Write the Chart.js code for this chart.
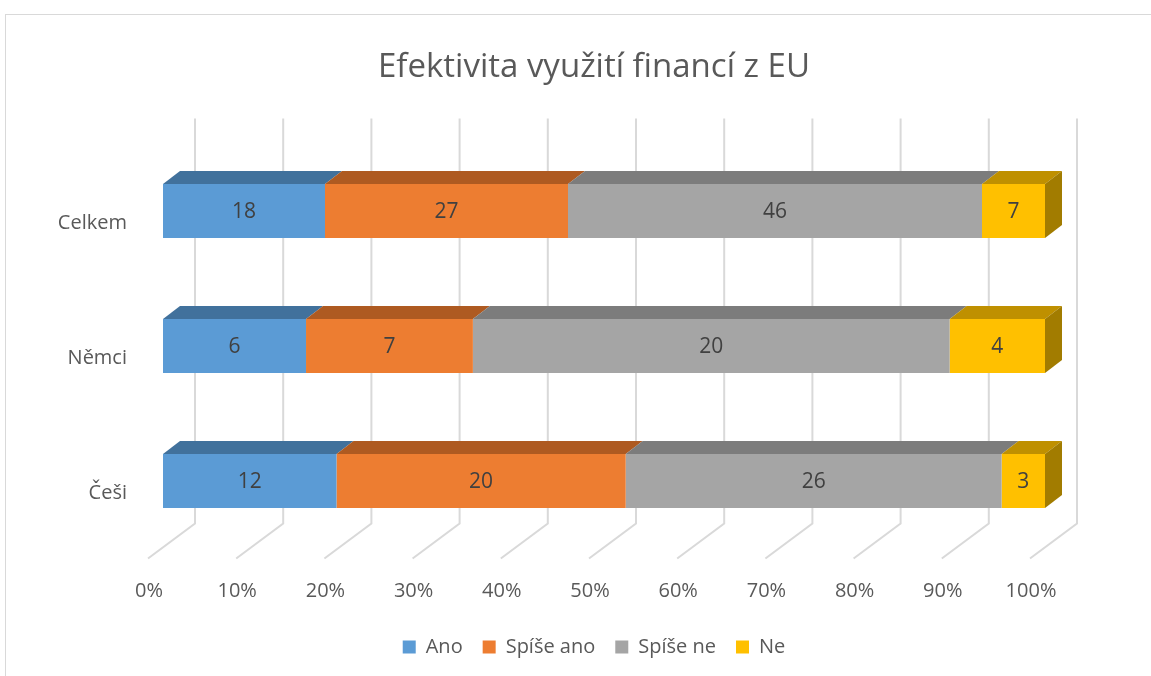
<!DOCTYPE html>
<html>
<head>
<meta charset="utf-8">
<script src="https://cdn.jsdelivr.net/npm/chart.js@4.4.1/dist/chart.umd.min.js"></script>
<style>
  html, body { margin: 0; padding: 0; background: #fff; overflow: hidden; }
  #wrap { width: 1188px; height: 676px; }
</style>
</head>
<body>
<div id="wrap"><canvas id="chart" width="1188" height="676"></canvas></div>
<script>
// data
const categories = ['Celkem', 'Němci', 'Češi'];
const seriesNames = ['Ano', 'Spíše ano', 'Spíše ne', 'Ne'];
const ano = [18, 6, 12];
const spiseAno = [27, 7, 20];
const spiseNe = [46, 20, 26];
const ne = [7, 4, 3];
const xTicks = [0, 10, 20, 30, 40, 50, 60, 70, 80, 90, 100];

const frontColors = ['#5B9BD5', '#ED7D31', '#A5A5A5', '#FFC000'];
const topColors = ['#41719C', '#AE5A21', '#7C7C7C', '#BF9000'];
const sideColor = '#A27C00';
const textColor = '#595959';
const fontFamily = '"Open Sans", "Noto Sans", sans-serif';

const rawSeries = [ano, spiseAno, spiseNe, ne];
const totals = categories.map((_, i) => rawSeries.reduce((s, arr) => s + arr[i], 0));

// 3D look: bar depth and back wall offset (pixels)
const depthX = 17, depthY = -13;
const wallX = 32;

const threeD = {
  id: 'threeD',
  beforeDraw(chart) {
    const ctx = chart.ctx;
    ctx.save();
    ctx.fillStyle = '#fff';
    ctx.fillRect(0, 0, chart.width, chart.height);
    ctx.strokeStyle = '#D9D9D9';
    ctx.lineWidth = 1;
    ctx.strokeRect(5.5, 14.5, chart.width - 10, chart.height);
    ctx.restore();
  },
  beforeDatasetsDraw(chart) {
    const ctx = chart.ctx;
    const area = chart.chartArea;
    const xs = chart.scales.x;
    ctx.save();
    ctx.strokeStyle = '#D9D9D9';
    ctx.lineWidth = 2;
    xTicks.forEach(v => {
      const px = xs.getPixelForValue(v);
      ctx.beginPath();
      ctx.moveTo(px + wallX, area.top - 25);
      ctx.lineTo(px + wallX, area.bottom - 25);
      ctx.lineTo(px - 15, area.bottom + 10);
      ctx.stroke();
    });
    ctx.restore();
  },
  afterDatasetsDraw(chart) {
    const ctx = chart.ctx;
    const last = chart.data.datasets.length - 1;
    ctx.save();
    chart.data.datasets.forEach((ds, di) => {
      const meta = chart.getDatasetMeta(di);
      meta.data.forEach((bar, i) => {
        const p = bar.getProps(['x', 'y', 'base', 'height'], true);
        const top = p.y - p.height / 2;
        const bottom = p.y + p.height / 2;
        ctx.fillStyle = topColors[di];
        ctx.beginPath();
        ctx.moveTo(p.base, top);
        ctx.lineTo(p.x, top);
        ctx.lineTo(p.x + depthX, top + depthY);
        ctx.lineTo(p.base + depthX, top + depthY);
        ctx.closePath();
        ctx.fill();
        if (di === last) {
          ctx.fillStyle = sideColor;
          ctx.beginPath();
          ctx.moveTo(p.x, top);
          ctx.lineTo(p.x + depthX, top + depthY);
          ctx.lineTo(p.x + depthX, bottom + depthY);
          ctx.lineTo(p.x, bottom);
          ctx.closePath();
          ctx.fill();
        }
        ctx.fillStyle = '#404040';
        ctx.font = '21px ' + fontFamily;
        ctx.textAlign = 'center';
        ctx.textBaseline = 'middle';
        ctx.fillText(String(rawSeries[di][i]), (p.base + p.x) / 2, p.y + 1);
      });
    });
    ctx.restore();
  }
};

const datasets = seriesNames.map((name, di) => ({
  label: name,
  data: rawSeries[di].map((v, i) => v / totals[i] * 100),
  backgroundColor: frontColors[di],
  borderWidth: 0,
  categoryPercentage: 1,
  barPercentage: 0.4
}));

new Chart(document.getElementById('chart'), {
  type: 'bar',
  data: { labels: categories, datasets },
  plugins: [threeD],
  options: {
    responsive: false,
    animation: false,
    indexAxis: 'y',
    layout: { padding: { top: 0, left: 0, right: 0, bottom: 9 } },
    plugins: {
      title: {
        display: true,
        text: 'Efektivita využití financí z EU',
        color: textColor,
        font: { family: fontFamily, size: 33, weight: 'normal' },
        padding: { top: 48, bottom: 56 }
      },
      legend: {
        position: 'bottom',
        labels: {
          boxWidth: 13,
          boxHeight: 13,
          color: textColor,
          font: { family: fontFamily, size: 20 },
          padding: 20
        }
      },
      tooltip: { enabled: false }
    },
    scales: {
      x: {
        stacked: true,
        min: 0,
        max: 100,
        ticks: {
          stepSize: 10,
          callback: v => v + '%',
          labelOffset: -14,
          padding: 31,
          color: textColor,
          font: { family: fontFamily, size: 20 },
          maxRotation: 0
        },
        grid: { display: false, drawTicks: false },
        border: { display: false },
        afterFit: s => { s.height = 68.5; }
      },
      y: {
        stacked: true,
        ticks: {
          labelOffset: 12,
          padding: 36,
          color: textColor,
          font: { family: fontFamily, size: 20 }
        },
        grid: { display: false, drawTicks: false },
        border: { display: false },
        afterFit: s => { s.width = 163; }
      },
      rightSpace: {
        type: 'linear',
        position: 'right',
        display: true,
        ticks: { display: false },
        grid: { display: false, drawTicks: false },
        border: { display: false },
        afterFit: s => { s.width = 143; }
      }
    }
  }
});
</script>
</body>
</html>
